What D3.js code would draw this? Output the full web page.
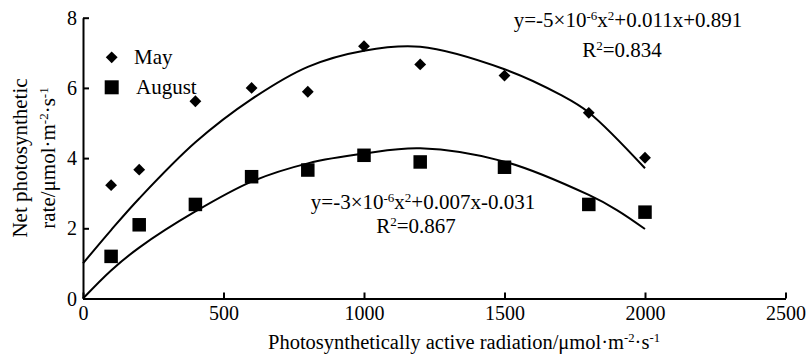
<!DOCTYPE html>
<meta charset="utf-8">
<style>
body { margin: 0; background: #fff; }
text { font-family: "Liberation Serif", "Times New Roman", serif; fill: #000; }
</style>
<svg id="chart" width="806" height="357"></svg>
<script src="https://d3js.org/d3.v7.min.js"></script>
<script>
// measured points
var parX = [100, 200, 400, 600, 800, 1000, 1200, 1500, 1800, 2000];
var mayRate = [3.23, 3.67, 5.62, 6.0, 5.89, 7.19, 6.67, 6.35, 5.29, 4.01];
var augRate = [1.2, 2.1, 2.68, 3.47, 3.66, 4.08, 3.89, 3.74, 2.68, 2.46];

// fitted curves
var mayFitX = [0, 100, 200, 400, 600, 800, 1000, 1200, 1500, 1700, 1800, 2000];
var mayFitY = [1.0, 1.95, 2.85, 4.45, 5.68, 6.6, 7.06, 7.17, 6.53, 5.8, 5.3, 3.71];
var augFitX = [0, 100, 200, 400, 600, 800, 1000, 1200, 1500, 1800, 1900, 2000];
var augFitY = [0.0, 0.8, 1.45, 2.48, 3.33, 3.85, 4.13, 4.28, 3.9, 2.95, 2.52, 1.98];

var xTicks = [0, 500, 1000, 1500, 2000, 2500];
var yTicks = [0, 2, 4, 6, 8];

var svg = d3.select("#chart");

var x = d3.scaleLinear().domain([0, 2500]).range([83, 785.5]);
var y = d3.scaleLinear().domain([0, 8]).range([298.5, 17.7]);

// axes, ticks point inward
var xAxis = svg.append("g")
    .attr("transform", "translate(0," + y(0) + ")")
    .call(d3.axisBottom(x).tickValues(xTicks).tickFormat(d3.format("d"))
          .tickSizeInner(-6).tickSizeOuter(0).tickPadding(7));
var yAxis = svg.append("g")
    .attr("transform", "translate(" + x(0) + ",0)")
    .call(d3.axisLeft(y).tickValues(yTicks).tickFormat(d3.format("d"))
          .tickSizeInner(-6).tickSizeOuter(0).tickPadding(6));

svg.selectAll(".domain, .tick line").attr("stroke", "#000").attr("stroke-width", 2);
svg.selectAll(".tick text").style("font-size", "20px")
    .style("font-family", "Liberation Serif").attr("fill", "#000");
xAxis.selectAll(".tick text").attr("dy", "0.72em");
yAxis.selectAll(".tick text").attr("dy", "0.33em");

// curves
var line = d3.line().curve(d3.curveCatmullRom.alpha(0.5))
    .x(d => x(d[0])).y(d => y(d[1]));

svg.append("path").datum(d3.zip(mayFitX, mayFitY))
    .attr("d", line).attr("fill", "none").attr("stroke", "#000").attr("stroke-width", 2);
svg.append("path").datum(d3.zip(augFitX, augFitY))
    .attr("d", line).attr("fill", "none").attr("stroke", "#000").attr("stroke-width", 2);

// markers
var diamond = d3.symbol().type(d3.symbolSquare).size(70);
svg.selectAll(".may").data(d3.zip(parX, mayRate)).enter().append("path")
    .attr("d", diamond)
    .attr("transform", d => "translate(" + x(d[0]) + "," + y(d[1]) + ") rotate(45)")
    .attr("fill", "#000");

var sq = 13.5;
svg.selectAll(".aug").data(d3.zip(parX, augRate)).enter().append("rect")
    .attr("x", d => x(d[0]) - sq / 2).attr("y", d => y(d[1]) - sq / 2)
    .attr("width", sq).attr("height", sq).attr("fill", "#000");

// legend
svg.append("path").attr("d", diamond)
    .attr("transform", "translate(111.7,57.3) rotate(45)").attr("fill", "#000");
svg.append("text").attr("x", 134).attr("y", 64).style("font-size", "21px").text("May");
svg.append("rect").attr("x", 111.7 - 7).attr("y", 87.3 - 7)
    .attr("width", 14).attr("height", 14).attr("fill", "#000");
svg.append("text").attr("x", 136).attr("y", 94).style("font-size", "21px").text("August");

// text with superscripts: parts are [string, isSup]
function richText(g, cx, cy, parts, size) {
    var t = g.append("text").attr("x", cx).attr("y", cy)
        .attr("text-anchor", "middle").style("font-size", size + "px");
    parts.forEach(function (p) {
        t.append("tspan")
            .attr("baseline-shift", p[1] ? "super" : null)
            .style("font-size", p[1] ? (size * 0.62) + "px" : null)
            .text(p[0]);
    });
    return t;
}

richText(svg, 628, 27, [["y=-5×10", 0], ["-6", 1], ["x", 0], ["2", 1], ["+0.011x+0.891", 0]], 21);
richText(svg, 622, 57, [["R", 0], ["2", 1], ["=0.834", 0]], 21);
richText(svg, 423, 209, [["y=-3×10", 0], ["-6", 1], ["x", 0], ["2", 1], ["+0.007x-0.031", 0]], 21);
richText(svg, 416, 233, [["R", 0], ["2", 1], ["=0.867", 0]], 21);

// axis titles
richText(svg, 464, 349, [["Photosynthetically active radiation/μmol·m", 0], ["-2", 1], ["·s", 0], ["-1", 1]], 20.5);

var yt = svg.append("g").attr("transform", "translate(0,158) rotate(-90)");
richText(yt, 0, 27, [["Net photosynthetic", 0]], 21);
richText(yt, 0, 55, [["rate/μmol·m", 0], ["-2", 1], ["·s", 0], ["-1", 1]], 21);
</script>
